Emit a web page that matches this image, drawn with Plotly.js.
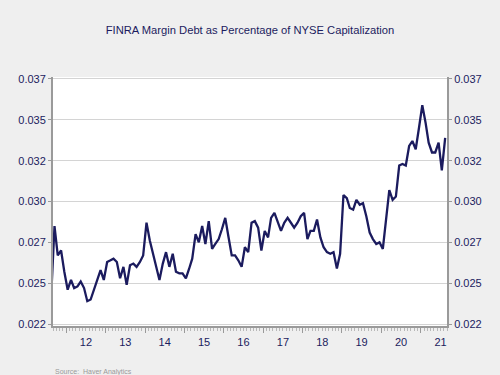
<!DOCTYPE html>
<html>
<head>
<meta charset="utf-8">
<script src="https://cdn.plot.ly/plotly-3.0.1.min.js"></script>
<style>html,body{margin:0;padding:0;background:#efefef;}#chart{width:500px;height:375px;}</style>
</head>
<body>
<div id="chart"></div>
<script>
// Monthly observations, Aug 2011 .. Aug 2021
const startYear = 2011, startMonth = 8;
const marginRatio = [
  0.0242, 0.0285, 0.0267, 0.0270, 0.0257,                                   // 2011 Aug-Dec
  0.0246, 0.0252, 0.0247, 0.0248, 0.0251, 0.0247, 0.0239, 0.0240, 0.0246, 0.0251, 0.0258, 0.0252, // 2012
  0.0263, 0.0264, 0.0265, 0.0263, 0.0253, 0.0260, 0.0249, 0.0261, 0.0262, 0.0260, 0.0263, 0.0267, // 2013
  0.0287, 0.0276, 0.0268, 0.0259, 0.0252, 0.0262, 0.0269, 0.0260, 0.0268, 0.0257, 0.0256, 0.0256, // 2014
  0.0253, 0.0259, 0.0265, 0.0280, 0.0275, 0.0285, 0.0274, 0.0288, 0.0271, 0.0274, 0.0277, 0.0283, // 2015
  0.0290, 0.0278, 0.0267, 0.0267, 0.0264, 0.0260, 0.0272, 0.0269, 0.0287, 0.0288, 0.0284, 0.0270, // 2016
  0.0282, 0.0278, 0.0290, 0.0293, 0.0287, 0.0282, 0.0287, 0.0290, 0.0287, 0.0284, 0.0287, 0.0291, // 2017
  0.0293, 0.0277, 0.0282, 0.0282, 0.0289, 0.0278, 0.0272, 0.0269, 0.0268, 0.0269, 0.0259, 0.0268, // 2018
  0.0304, 0.0302, 0.0296, 0.0295, 0.0301, 0.0298, 0.0299, 0.0291, 0.0281, 0.0277, 0.0274, 0.0275, // 2019
  0.0271, 0.0288, 0.0307, 0.0301, 0.0303, 0.0322, 0.0323, 0.0322, 0.0334, 0.0337, 0.0332, 0.0345, // 2020
  0.0359, 0.0348, 0.0336, 0.0330, 0.0330, 0.0336, 0.0319, 0.0339                          // 2021 Jan-Aug
];
const yTickVals = [0.0225, 0.025, 0.0275, 0.030, 0.0325, 0.035, 0.0375];
const yTickText = ["0.022", "0.025", "0.027", "0.030", "0.032", "0.035", "0.037"];

const dates = marginRatio.map((v, i) => {
  const m0 = startMonth - 1 + i;
  const y = startYear + Math.floor(m0 / 12);
  const m = (m0 % 12) + 1;
  return y + "-" + String(m).padStart(2, "0") + "-15";
});

const navy = "#1b1b5e";
const font = {family: "Arial, 'Liberation Sans', sans-serif", size: 11, color: navy};

const traces = [
  {x: dates, y: marginRatio, type: "scatter", mode: "lines",
   line: {color: navy, width: 2.3}, hoverinfo: "x+y", showlegend: false},
  {x: dates, y: marginRatio, type: "scatter", mode: "lines", yaxis: "y2",
   line: {color: "rgba(0,0,0,0)", width: 0}, hoverinfo: "skip", showlegend: false}
];

const yCommon = {
  range: [0.02238, 0.03762], tickmode: "array", tickvals: yTickVals, ticktext: yTickText,
  showgrid: true, gridcolor: "#d4d4d4", gridwidth: 1, zeroline: false,
  showline: true, linecolor: "#9a9a9a", linewidth: 2,
  ticks: "outside", ticklen: 3, tickcolor: "#9a9a9a", tickfont: font
};

const layout = {
  width: 500, height: 375,
  paper_bgcolor: "#efefef", plot_bgcolor: "#ffffff",
  margin: {l: 53, r: 53, t: 77, b: 49},
  title: {text: "FINRA Margin Debt as Percentage of NYSE Capitalization",
          font: {family: "Arial, 'Liberation Sans', sans-serif", size: 11.2, color: navy},
          x: 0.5, xanchor: "center", y: 0.92, yanchor: "middle"},
  xaxis: {
    type: "date", range: ["2011-09-01", "2021-09-01"],
    tick0: "2012-01-01", dtick: "M12", tickformat: "%y", ticklabelmode: "period",
    showgrid: false, zeroline: false,
    showline: true, linecolor: "#9a9a9a", linewidth: 2,
    ticks: "outside", ticklen: 5, tickcolor: "#9a9a9a", tickfont: font,
    minor: {dtick: "M1", ticks: "outside", ticklen: 3, tickcolor: "#b8b8b8", showgrid: false}
  },
  yaxis: Object.assign({side: "left"}, yCommon),
  yaxis2: Object.assign({side: "right", overlaying: "y", anchor: "x"}, yCommon, {showgrid: false}),
  annotations: [{
    text: "Source:  Haver Analytics", xref: "paper", yref: "paper",
    x: 0, y: -0.183, xanchor: "left", yanchor: "middle", showarrow: false,
    font: {family: "Arial, 'Liberation Sans', sans-serif", size: 7, color: "#9a9a9a"}
  }]
};

Plotly.newPlot("chart", traces, layout, {displayModeBar: false, staticPlot: true});
</script>
</body>
</html>
